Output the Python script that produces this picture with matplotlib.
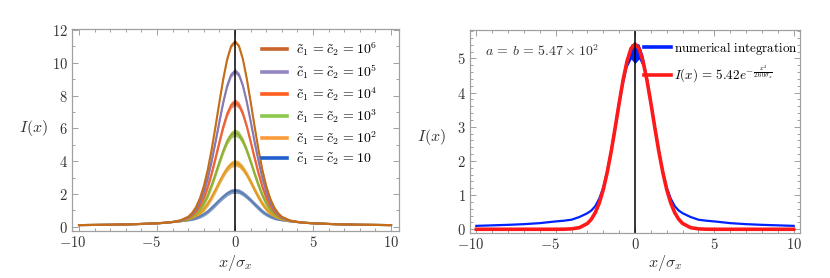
import matplotlib
matplotlib.use("Agg")
import matplotlib.pyplot as plt
from matplotlib.lines import Line2D
from matplotlib.ticker import MultipleLocator
from matplotlib.transforms import ScaledTranslation
import numpy as np

plt.rcParams['mathtext.fontset'] = 'cm'
plt.rcParams['font.family'] = ['DejaVu Serif']

# ---------------- data ----------------
x = [-10, -9, -8, -7, -6, -5, -4.5, -4, -3.5, -3, -2.75, -2.5, -2.25, -2, -1.75, -1.5,
     -1.25, -1, -0.75, -0.5, -0.25, 0, 0.25, 0.5, 0.75, 1, 1.25, 1.5, 1.75, 2, 2.25,
     2.5, 2.75, 3, 3.5, 4, 4.5, 5, 6, 7, 8, 9, 10]

c_1e6 = [0.10, 0.11, 0.12, 0.14, 0.17, 0.21, 0.24, 0.29, 0.39, 0.61, 0.84, 1.20, 1.73, 2.48,
         3.47, 4.71, 6.13, 7.62, 9.04, 10.23, 11.02, 11.30, 11.02, 10.23, 9.04, 7.62, 6.13,
         4.71, 3.47, 2.48, 1.73, 1.20, 0.84, 0.61, 0.39, 0.29, 0.24, 0.21, 0.17, 0.14, 0.12,
         0.11, 0.10]
c_1e5 = [0.10, 0.11, 0.12, 0.14, 0.17, 0.21, 0.24, 0.29, 0.37, 0.57, 0.77, 1.07, 1.51, 2.14,
         2.97, 4.01, 5.19, 6.43, 7.62, 8.61, 9.27, 9.50, 9.27, 8.61, 7.62, 6.43, 5.19,
         4.01, 2.97, 2.14, 1.51, 1.07, 0.77, 0.57, 0.37, 0.29, 0.24, 0.21, 0.17, 0.14, 0.12,
         0.11, 0.10]
c_1e4 = [0.10, 0.11, 0.12, 0.14, 0.17, 0.21, 0.24, 0.29, 0.36, 0.53, 0.69, 0.93, 1.28, 1.78,
         2.44, 3.26, 4.20, 5.18, 6.12, 6.90, 7.42, 7.60, 7.42, 6.90, 6.12, 5.18, 4.20,
         3.26, 2.44, 1.78, 1.28, 0.93, 0.69, 0.53, 0.36, 0.29, 0.24, 0.21, 0.17, 0.14, 0.12,
         0.11, 0.10]
c_1e3 = [0.10, 0.11, 0.12, 0.14, 0.17, 0.21, 0.24, 0.29, 0.35, 0.48, 0.61, 0.79, 1.06, 1.43,
         1.92, 2.54, 3.23, 3.96, 4.65, 5.23, 5.61, 5.75, 5.61, 5.23, 4.65, 3.96, 3.23,
         2.54, 1.92, 1.43, 1.06, 0.79, 0.61, 0.48, 0.35, 0.29, 0.24, 0.21, 0.17, 0.14, 0.12,
         0.11, 0.10]
c_1e2 = [0.10, 0.11, 0.12, 0.14, 0.17, 0.21, 0.24, 0.29, 0.34, 0.44, 0.53, 0.65, 0.83, 1.08,
         1.41, 1.81, 2.26, 2.74, 3.19, 3.56, 3.81, 3.90, 3.81, 3.56, 3.19, 2.74, 2.26,
         1.81, 1.41, 1.08, 0.83, 0.65, 0.53, 0.44, 0.34, 0.29, 0.24, 0.21, 0.17, 0.14, 0.12,
         0.11, 0.10]
c_1e1 = [0.10, 0.11, 0.12, 0.14, 0.17, 0.21, 0.24, 0.28, 0.33, 0.40, 0.45, 0.53, 0.63, 0.76,
         0.93, 1.15, 1.38, 1.62, 1.84, 2.03, 2.16, 2.20, 2.16, 2.03, 1.84, 1.62, 1.38,
         1.15, 0.93, 0.76, 0.63, 0.53, 0.45, 0.40, 0.33, 0.28, 0.24, 0.21, 0.17, 0.14, 0.12,
         0.11, 0.10]

# half-width of the jagged (noisy) band around each curve
noise_profile = [0, 0, 0, 0, 0, 0, 0, 0.05, 0.15, 0.3, 0.45, 0.6, 0.7, 0.8, 0.9, 1, 1, 1, 1,
                 1, 1, 1, 1, 1, 1, 1, 1, 1, 0.9, 0.8, 0.7, 0.6, 0.45, 0.3, 0.15, 0.05, 0, 0,
                 0, 0, 0, 0, 0]
left_series = [c_1e1, c_1e2, c_1e3, c_1e4, c_1e5, c_1e6]
left_noise = [0.15, 0.2, 0.22, 0.2, 0.15, 0.1]
left_labels = [r'$\tilde{c}_1\,=\tilde{c}_2\,=10$', r'$\tilde{c}_1\,=\tilde{c}_2\,=10^2$',
               r'$\tilde{c}_1\,=\tilde{c}_2\,=10^3$', r'$\tilde{c}_1\,=\tilde{c}_2\,=10^4$',
               r'$\tilde{c}_1\,=\tilde{c}_2\,=10^5$', r'$\tilde{c}_1\,=\tilde{c}_2\,=10^6$']

num_int = [0.10, 0.115, 0.13, 0.15, 0.18, 0.23, 0.25, 0.28, 0.36, 0.47, 0.55, 0.68, 0.90,
           1.22, 1.70, 2.30, 2.98, 3.70, 4.37, 4.92, 5.20, 5.15, 5.20, 4.92, 4.37, 3.70,
           2.98, 2.30, 1.70, 1.22, 0.90, 0.68, 0.55, 0.47, 0.36, 0.28, 0.25, 0.23, 0.18,
           0.15, 0.13, 0.115, 0.10]
num_noise = [0, 0, 0, 0, 0, 0, 0, 0, 0, 0, 0, 0, 0, 0.04, 0.08, 0.12, 0.14, 0.14, 0.15, 0.18,
             0.22, 0.3, 0.22, 0.18, 0.15, 0.14, 0.14, 0.12, 0.08, 0.04, 0, 0, 0, 0, 0, 0, 0, 0,
             0, 0, 0, 0, 0]
fit = [0, 0, 0, 0, 0, 0, 0.002, 0.012, 0.049, 0.170, 0.296, 0.49, 0.773, 1.16, 1.67, 2.28,
       2.97, 3.69, 4.37, 4.92, 5.29, 5.42, 5.29, 4.92, 4.37, 3.69, 2.97, 2.28, 1.67, 1.16,
       0.773, 0.49, 0.296, 0.170, 0.049, 0.012, 0.002, 0, 0, 0, 0, 0, 0]

x_ticks = [-10, -5, 0, 5, 10]
y_ticks_left = [0, 2, 4, 6, 8, 10, 12]
y_ticks_right = [0, 1, 2, 3, 4, 5]

# ---------------- styling ----------------
curve_colors = ['#5E81B5', '#E19C24', '#8FB032', '#EB6235', '#8778B3', '#C56E1A']
legend_colors = ['#1F5FCC', '#FF9A3C', '#8CC84B', '#FF5E1F', '#9385C4', '#C9652A']
frame_col = '#a0a0a0'
lab_col = '#333333'

fig = plt.figure(figsize=(8.30, 2.78), dpi=100)
ax1 = fig.add_axes([72/830, 1-231/278, 327/830, 202/278])
ax2 = fig.add_axes([470/830, 1-232.7/278, 330/830, 202.7/278])

xa = np.array(x)
prof = np.array(noise_profile)
for ys, col, nz in zip(left_series, curve_colors, left_noise):
    ya = np.array(ys)
    ax1.fill_between(xa, ya - nz*prof, ya + nz*prof, color=col, alpha=0.75, lw=0)
    ax1.plot(xa, ya, color=col, lw=1.5)
ax1.axvline(0, color='black', lw=1.1)
ax1.set_xlim(-10.45, 10.51)
ax1.set_ylim(-0.26, 12.06)
ax1.set_yticks(y_ticks_left, [r'$%g$' % v for v in y_ticks_left])
ax1.yaxis.set_minor_locator(MultipleLocator(1))

handles = [Line2D([], [], color=c, lw=2.6) for c in legend_colors]
ax1.legend(handles[::-1], left_labels[::-1], loc='upper right',
           bbox_to_anchor=(0.955, 0.98), frameon=False, fontsize=10,
           handlelength=1.8, handletextpad=0.65, labelspacing=0.3, borderpad=0)

na = np.array(num_int)
nn = np.array(num_noise)
ax2.fill_between(xa, na - nn, na + nn, color='#0022ff', lw=0)
ax2.plot(xa, na, color='#0022ff', lw=1.6)
ax2.plot(xa, fit, color='#ff1a1a', lw=2.6)
ax2.axvline(0, color='black', lw=1.1)
ax2.set_xlim(-10.4, 10.4)
ax2.set_ylim(-0.1, 5.83)
ax2.set_yticks(y_ticks_right, [r'$%g$' % v for v in y_ticks_right])
ax2.yaxis.set_minor_locator(MultipleLocator(0.2))
ax2.text(-9.45, 5.22, r'$a\,=\,b\,=\,5.47\times10^2$', fontsize=10, color=lab_col, va='center')
h2 = [Line2D([], [], color='#0022ff', lw=2.6), Line2D([], [], color='#ff1a1a', lw=2.6)]
ax2.legend(h2, [r'$\mathrm{numerical\ integration}$',
                r'$I(x)\,=\,5.42e^{-\frac{x^2}{2.60\sigma_x}}$'],
           loc='upper right', bbox_to_anchor=(1.012, 0.985), frameon=False, fontsize=9.4,
           handlelength=2.0, handletextpad=0.25, labelspacing=0.55, borderpad=0)

shift = ScaledTranslation(-6/100, 0, fig.dpi_scale_trans)
for ax in (ax1, ax2):
    ax.set_xticks(x_ticks, [r'$%g$' % v for v in x_ticks])
    ax.xaxis.set_minor_locator(MultipleLocator(1))
    ax.tick_params(which='both', direction='in', top=True, right=True, color=frame_col,
                   labelcolor=lab_col, labelsize=10.5, width=0.7)
    ax.tick_params(which='major', length=4, pad=3)
    ax.tick_params(which='minor', length=2.2)
    for s in ax.spines.values():
        s.set_color(frame_col)
        s.set_linewidth(0.9)
    for v, lab in zip(x_ticks, ax.get_xticklabels()):
        if v < 0:
            lab.set_transform(lab.get_transform() + shift)

fig.text(33/830, 1-128/278, r'$I(x)$', fontsize=11.5, color=lab_col, ha='center', va='center')
fig.text(431/830, 1-137/278, r'$I(x)$', fontsize=11.5, color=lab_col, ha='center', va='center')
fig.text(235/830, 1-263/278, r'$x/\sigma_x$', fontsize=11.5, color=lab_col, ha='center', va='center')
fig.text(665/830, 1-263/278, r'$x/\sigma_x$', fontsize=11.5, color=lab_col, ha='center', va='center')

fig.savefig('out.png', dpi=100)
